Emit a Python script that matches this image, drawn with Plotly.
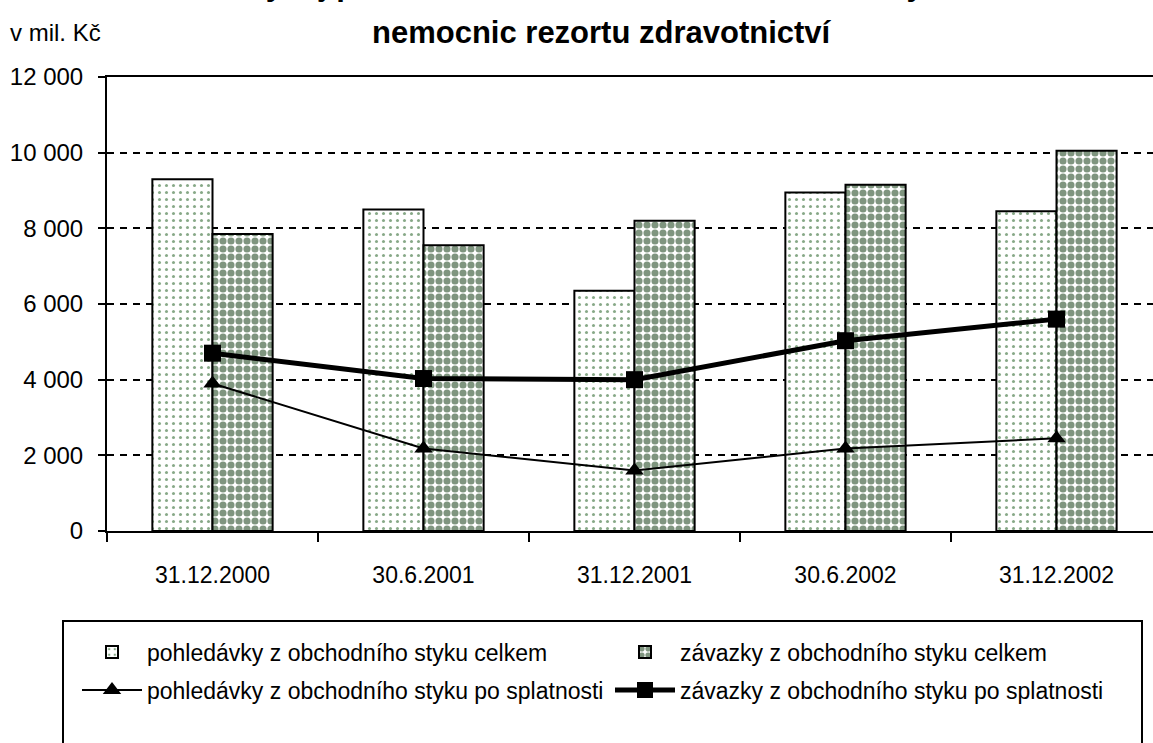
import plotly.graph_objects as go

categories = ["31.12.2000", "30.6.2001", "31.12.2001", "30.6.2002", "31.12.2002"]
pohl_celkem = [9300, 8500, 6350, 8950, 8450]
zav_celkem = [7850, 7550, 8200, 9150, 10050]
pohl_po_spl = [3900, 2180, 1600, 2180, 2450]
zav_po_spl = [4700, 4030, 4000, 5030, 5600]
y_ticks = [0, 2000, 4000, 6000, 8000, 10000, 12000]

W, H = 1153, 743
L, T, B = 107, 77, 531
PW, PH = W - L, B - T

def px_x(x):
    return (x - L) / PW

def px_y(y):
    return (B - y) / PH

FONT = "Liberation Sans, Arial, sans-serif"

fig = go.Figure()
fig.add_trace(go.Bar(
    name="pohledávky z obchodního styku celkem", x=categories, y=pohl_celkem,
    marker=dict(color="white", line=dict(color="black", width=2),
                pattern=dict(shape=".", fgcolor="#0f520f", bgcolor="white", size=7, solidity=0.15)),
    legend="legend"))
fig.add_trace(go.Bar(
    name="závazky z obchodního styku celkem", x=categories, y=zav_celkem,
    marker=dict(color="white", line=dict(color="black", width=2),
                pattern=dict(shape=".", fgcolor="#002b00", bgcolor="white", size=8, solidity=0.62)),
    legend="legend2"))
fig.add_trace(go.Scatter(
    name="pohledávky z obchodního styku po splatnosti", x=categories, y=pohl_po_spl,
    mode="lines+markers", line=dict(color="black", width=2),
    marker=dict(symbol="triangle-up", size=16, color="black"), legend="legend3"))
fig.add_trace(go.Scatter(
    name="závazky z obchodního styku po splatnosti", x=categories, y=zav_po_spl,
    mode="lines+markers", line=dict(color="black", width=5),
    marker=dict(symbol="square", size=17, color="black"), legend="legend4"))

leg_common = dict(orientation="h", xanchor="left", yanchor="middle", itemwidth=60,
                  font=dict(size=23), bgcolor="rgba(0,0,0,0)")
COL1, COL2 = 77, 610
ROW1, ROW2 = 652, 690

fig.update_layout(
    width=W, height=H,
    margin=dict(l=L, r=0, t=T, b=H - B, pad=0),
    paper_bgcolor="white", plot_bgcolor="white",
    font=dict(family=FONT, size=24, color="black"),
    separators=", ",
    barmode="group", bargap=0.43, bargroupgap=0,
    xaxis=dict(type="category", range=[-0.5, -0.5 + PW / 211.0], automargin=False,
               showline=True, linecolor="black", linewidth=2, mirror=True,
               ticks="outside", ticklen=9, tickwidth=2, tickcolor="black",
               tickson="boundaries", showgrid=False, ticklabelstandoff=22,
               tickfont=dict(size=23)),
    yaxis=dict(range=[0, 12000], tickvals=y_ticks, tickformat=",d", automargin=False,
               showline=True, linecolor="black", linewidth=2,
               ticks="outside", ticklen=7, tickwidth=2, tickcolor="black",
               showgrid=True, gridcolor="black", gridwidth=2, griddash="7px,6px",
               zeroline=False, ticklabelstandoff=10, tickfont=dict(size=24)),
    showlegend=True,
    legend=dict(x=px_x(COL1), y=px_y(ROW1), **leg_common),
    legend2=dict(x=px_x(COL2), y=px_y(ROW1), **leg_common),
    legend3=dict(x=px_x(COL1), y=px_y(ROW2), **leg_common),
    legend4=dict(x=px_x(COL2), y=px_y(ROW2), **leg_common),
    shapes=[dict(type="rect", xref="paper", yref="paper",
                 x0=px_x(63), x1=px_x(1142), y0=px_y(770), y1=px_y(621),
                 line=dict(color="black", width=2), fillcolor="rgba(0,0,0,0)")],
    annotations=[
        dict(text="<b>Vývoj pohledávek a závazků z obchodního styku</b>", xref="paper", yref="paper",
             x=px_x(602), y=px_y(-16), xanchor="center", yanchor="middle", showarrow=False,
             font=dict(size=31, family=FONT)),
        dict(text="<b>nemocnic rezortu zdravotnictví</b>", xref="paper", yref="paper",
             x=px_x(602), y=px_y(32), xanchor="center", yanchor="middle", showarrow=False,
             font=dict(size=31, family=FONT)),
        dict(text="v mil. Kč", xref="paper", yref="paper",
             x=px_x(8), y=px_y(32), xanchor="left", yanchor="middle", showarrow=False,
             font=dict(size=24, family=FONT)),
    ],
)

fig.write_html("out.html", config={"displayModeBar": False},
               post_script="document.body.style.margin='0px';")
